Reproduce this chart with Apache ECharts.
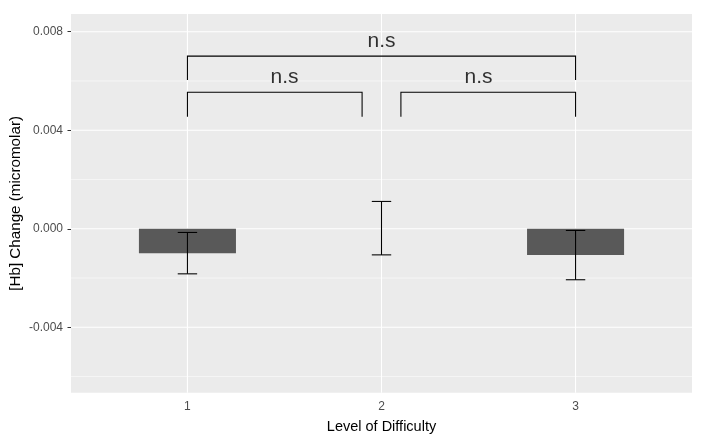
<!DOCTYPE html>
<html><head><meta charset="utf-8">
<script src="https://cdn.jsdelivr.net/npm/echarts@6/dist/echarts.min.js"></script>
<style>html,body{margin:0;padding:0;background:#fff}#c{width:716px;height:435px}</style>
</head><body><div id="c"></div>
<script>
const categories = [1, 2, 3];
const tickLabels = ['1', '2', '3'];
const meanChange = [-0.00099, 0, -0.00107];
const errLow = [-0.00183, -0.00106, -0.00207];
const errHigh = [-0.00015, 0.00111, -0.00007];
const yTickValues = [-0.004, 0, 0.004, 0.008];
const yMinorValues = [-0.006, -0.002, 0.002, 0.006];
const bracketStart = [1, 2.1, 1];
const bracketEnd = [1.9, 3, 3];
const bracketTop = [0.00554, 0.00554, 0.00701];
const bracketLeg = [0.00455, 0.00455, 0.00604];
const sigLabels = ['n.s', 'n.s', 'n.s'];
const sigX = [1.5, 2.5, 2];
const sigY = [0.00614, 0.00614, 0.00763];

const FONT = "'Liberation Sans', Arial, sans-serif";
const chart = echarts.init(document.getElementById('c'), null, {renderer: 'canvas'});

const gridData = []
  .concat(yTickValues.map(v => ['y', v, 1.07]))
  .concat(yMinorValues.map(v => ['y', v, 0.53]))
  .concat(categories.map(v => ['x', v, 1.07]));

const option = {
  animation: false,
  backgroundColor: '#fff',
  grid: {left: 71, top: 14, right: 24, bottom: 42.3, show: true, backgroundColor: '#EBEBEB', borderWidth: 0,
    containLabel: false, outerBoundsMode: 'none'},
  xAxis: {
    type: 'value', min: 0.4, max: 3.6,
    name: 'Level of Difficulty', nameLocation: 'middle', nameGap: 27, nameMoveOverlap: false,
    nameTextStyle: {color: '#000', fontSize: 14.5, fontFamily: FONT},
    axisLine: {show: false},
    axisTick: {show: true, length: 3.5, lineStyle: {color: '#333', width: 1}, customValues: categories},
    axisLabel: {color: '#4D4D4D', fontSize: 12, fontFamily: FONT, margin: 8, customValues: categories,
      formatter: v => tickLabels[categories.indexOf(Math.round(v))] || ''},
    splitLine: {show: false}
  },
  yAxis: {
    type: 'value', min: -0.006656, max: 0.00872,
    name: '[Hb] Change (micromolar)', nameLocation: 'middle', nameGap: 48, nameMoveOverlap: false,
    nameTextStyle: {color: '#000', fontSize: 15.2, fontFamily: FONT},
    axisLine: {show: false},
    axisTick: {show: true, length: 3.5, lineStyle: {color: '#333', width: 1}, customValues: yTickValues},
    axisLabel: {color: '#4D4D4D', fontSize: 12, fontFamily: FONT, margin: 8, customValues: yTickValues,
      formatter: v => v.toFixed(3)},
    splitLine: {show: false}
  },
  series: [
    {
      type: 'custom', z: 1, silent: true,
      data: gridData,
      encode: {x: [], y: []},
      renderItem: (params, api) => {
        const cs = params.coordSys;
        const kind = gridData[params.dataIndex][0];
        const v = gridData[params.dataIndex][1];
        const w = gridData[params.dataIndex][2];
        if (kind === 'y') {
          const p = api.coord([1, v]);
          return {type: 'line', shape: {x1: cs.x, y1: p[1], x2: cs.x + cs.width, y2: p[1]},
            style: {stroke: '#fff', lineWidth: w}};
        }
        const p = api.coord([v, 0]);
        return {type: 'line', shape: {x1: p[0], y1: cs.y, x2: p[0], y2: cs.y + cs.height},
          style: {stroke: '#fff', lineWidth: w}};
      }
    },
    {
      type: 'custom', z: 2, silent: true,
      data: categories.map((c, i) => [c, meanChange[i]]),
      encode: {x: 0, y: 1},
      renderItem: (params, api) => {
        const x = api.value(0), y = api.value(1);
        const a = api.coord([x - 0.25, 0]);
        const b = api.coord([x + 0.25, y]);
        return {type: 'rect', shape: {x: a[0], y: Math.min(a[1], b[1]), width: b[0] - a[0], height: Math.abs(b[1] - a[1])},
          style: {fill: '#595959'}};
      }
    },
    {
      type: 'custom', z: 3, silent: true,
      data: categories.map((c, i) => [c, errLow[i], errHigh[i]]),
      encode: {x: 0, y: [1, 2]},
      renderItem: (params, api) => {
        const x = api.value(0);
        const lo = api.coord([x, api.value(1)]);
        const hi = api.coord([x, api.value(2)]);
        const l = api.coord([x - 0.05, 0])[0], r = api.coord([x + 0.05, 0])[0];
        const st = {stroke: '#000', lineWidth: 1.07};
        return {type: 'group', children: [
          {type: 'line', shape: {x1: lo[0], y1: lo[1], x2: hi[0], y2: hi[1]}, style: st},
          {type: 'line', shape: {x1: l, y1: lo[1], x2: r, y2: lo[1]}, style: st},
          {type: 'line', shape: {x1: l, y1: hi[1], x2: r, y2: hi[1]}, style: st}
        ]};
      }
    },
    {
      type: 'custom', z: 4, silent: true,
      data: bracketStart.map((s, i) => [s, bracketEnd[i], bracketTop[i], bracketLeg[i]]),
      encode: {x: [0, 1], y: [2, 3]},
      renderItem: (params, api) => {
        const x1 = api.value(0), x2 = api.value(1), t = api.value(2), g = api.value(3);
        const pts = [api.coord([x1, g]), api.coord([x1, t]), api.coord([x2, t]), api.coord([x2, g])];
        return {type: 'polyline', shape: {points: pts}, style: {stroke: '#000', lineWidth: 1.07, fill: null}};
      }
    },
    {
      type: 'scatter', z: 5, silent: true, symbolSize: 0,
      data: sigX.map((x, i) => ({value: [x, sigY[i]], name: sigLabels[i]})),
      label: {show: true, position: 'inside', formatter: p => p.name, color: '#000', fontSize: 21,
        fontFamily: FONT, align: 'center', verticalAlign: 'middle'}
    }
  ]
};
chart.setOption(option);
</script>
</body></html>
